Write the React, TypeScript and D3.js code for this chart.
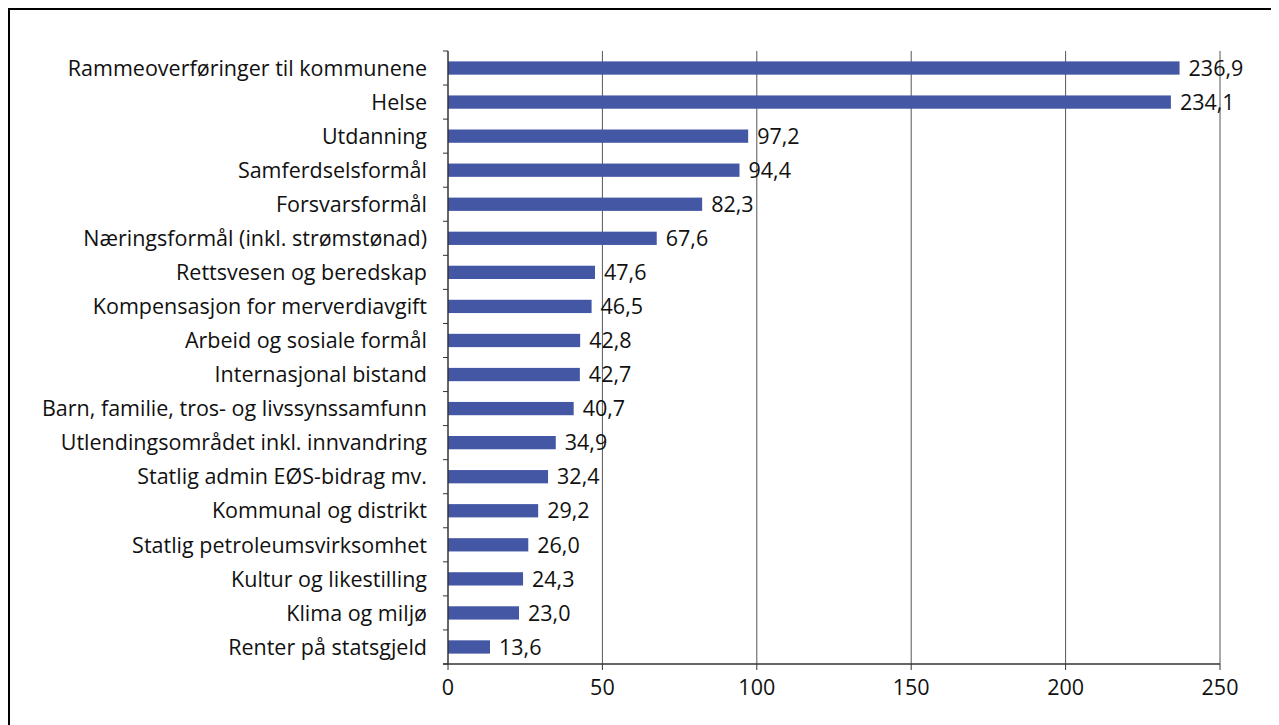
import React from 'react';
import * as d3 from 'd3';

const categories: string[] = [
  'Rammeoverføringer til kommunene',
  'Helse',
  'Utdanning',
  'Samferdselsformål',
  'Forsvarsformål',
  'Næringsformål (inkl. strømstønad)',
  'Rettsvesen og beredskap',
  'Kompensasjon for merverdiavgift',
  'Arbeid og sosiale formål',
  'Internasjonal bistand',
  'Barn, familie, tros- og livssynssamfunn',
  'Utlendingsområdet inkl. innvandring',
  'Statlig admin EØS-bidrag mv.',
  'Kommunal og distrikt',
  'Statlig petroleumsvirksomhet',
  'Kultur og likestilling',
  'Klima og miljø',
  'Renter på statsgjeld',
];
const values: number[] = [236.9, 234.1, 97.2, 94.4, 82.3, 67.6, 47.6, 46.5, 42.8, 42.7, 40.7, 34.9, 32.4, 29.2, 26.0, 24.3, 23.0, 13.6];
const xTicks: number[] = [0, 50, 100, 150, 200, 250];

const W = 1271;
const H = 717;
const FONT = '"Open Sans", "Noto Sans", sans-serif';
const FS = 21.5;
const fmt = (v: number) => v.toFixed(1).replace('.', ',');

export default function App() {
  const x = d3.scaleLinear().domain([0, 250]).range([440, 1212]);
  const y = d3.scaleBand<string>().domain(categories).range([43, 656]).paddingInner(0.61).paddingOuter(0.305);
  const step = y.step();
  const bounds = d3.range(categories.length + 1).map((i) => 43 + i * step);
  const bottom = 656;

  return (
    <svg width={W} height={H} style={{ display: 'block' }} fontFamily={FONT}>
      <rect x={1} y={1} width={W + 20} height={H + 20} fill="#fff" stroke="#000" strokeWidth={2} />
      {/* gridlines */}
      {xTicks.slice(1).map((t) => (
        <line key={t} x1={x(t)} x2={x(t)} y1={43} y2={bottom} stroke="#555" strokeWidth={1} />
      ))}
      {/* bars */}
      {categories.map((c, i) => (
        <rect key={c} x={x(0)} y={y(c)} width={x(values[i]) - x(0)} height={y.bandwidth()} fill="#4457A5" />
      ))}
      {/* value labels */}
      {categories.map((c, i) => (
        <text key={c} x={x(values[i]) + 9} y={(y(c) as number) + y.bandwidth() / 2} dy="0.36em" fontSize={FS} fill="#111">
          {fmt(values[i])}
        </text>
      ))}
      {/* y axis */}
      <line x1={x(0)} x2={x(0)} y1={43} y2={bottom} stroke="#333" strokeWidth={1.5} />
      {bounds.map((b, i) => (
        <line key={i} x1={x(0) - 5} x2={x(0)} y1={b} y2={b} stroke="#333" strokeWidth={1} />
      ))}
      {categories.map((c) => (
        <text key={c} x={x(0) - 21} y={(y(c) as number) + y.bandwidth() / 2} dy="0.36em" textAnchor="end" fontSize={FS} fill="#111">
          {c}
        </text>
      ))}
      {/* x axis */}
      <line x1={x(0) - 5} x2={x(250)} y1={bottom} y2={bottom} stroke="#333" strokeWidth={1.5} />
      {xTicks.map((t) => (
        <g key={t}>
          <line x1={x(t)} x2={x(t)} y1={bottom} y2={bottom + 6} stroke="#333" strokeWidth={1} />
          <text x={x(t)} y={bottom + 31} textAnchor="middle" fontSize={FS} fill="#111">{t}</text>
        </g>
      ))}
    </svg>
  );
}
